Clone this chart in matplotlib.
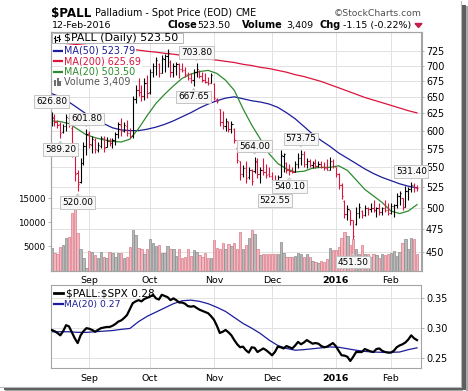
import matplotlib
matplotlib.use('Agg')
import matplotlib.pyplot as plt
import numpy as np
import pandas as pd
from matplotlib.lines import Line2D
from matplotlib.patches import Rectangle, Polygon
from matplotlib.ticker import NullLocator

plt.rcParams['text.parse_math'] = False

W, H = 468, 391

# trading sessions shown on the chart
holidays = ['2015-09-07', '2015-11-26', '2015-12-25', '2016-01-01', '2016-01-18']
days = pd.bdate_range('2015-08-13', '2016-02-12')
days = days[~days.isin(pd.to_datetime(holidays))]

opens = [611, 619, 612, 609, 598, 606, 618, 604, 574, 543,
         531, 556, 578, 596, 580, 587, 573, 579, 589, 577,
         586, 582, 587, 595, 608, 600, 607, 597, 593, 647,
         660, 657, 651, 671, 657, 690, 700, 702, 688, 711,
         716, 706, 690, 700, 702, 695, 692, 686, 680, 676,
         690, 691, 683, 677, 674, 671, 670, 647, 632, 612,
         607, 613, 602, 603, 576, 559, 541, 549, 537, 546,
         545, 557, 541, 547, 544, 541, 539, 532, 529, 538,
         565, 556, 547, 545, 544, 555, 562, 568, 554, 558,
         553, 556, 552, 555, 551, 549, 547, 558, 551, 541,
         527, 508, 492, 497, 485, 481, 494, 496, 491, 500,
         498, 500, 497, 499, 495, 499, 497, 494, 502, 503,
         514, 511, 501, 520, 522, 527, 524.65]
highs = [626.8, 624, 615, 612, 610, 624, 622, 606, 576, 546,
         562, 584, 601.8, 600, 593, 589, 584, 593, 593, 591,
         589, 589, 598, 613, 618, 612, 615, 604, 652, 668,
         679, 668, 679, 684, 695, 705, 715, 704, 718, 720,
         728, 709, 704, 706, 704, 705, 698, 690, 688, 695,
         703.8, 692, 689, 688, 681, 688, 671, 648, 632, 629,
         618, 614, 614, 604, 577, 559, 553, 559, 550, 548,
         564, 562, 550, 562, 555, 550, 544, 540, 540, 573,
         569, 557, 555, 550, 559, 569, 573.75, 572, 562, 561,
         559, 561, 559, 559, 557, 561, 564, 561, 551, 543,
         530, 509, 503, 497, 486, 501, 506, 497, 503, 501,
         506, 509, 501, 506, 501, 509, 506, 506, 504, 518,
         520, 512, 526, 525, 531.4, 530, 527]
lows = [607, 607, 604, 589.2, 596, 600, 605, 563, 533, 520,
        530, 553, 566, 576, 569, 569, 570, 576, 570, 577,
        579, 576, 580, 589, 593, 598, 593, 589, 590, 640,
        652, 644, 645, 648, 655, 682, 684, 682, 687, 689,
        697, 682, 682, 684, 680, 690, 682, 676, 671, 667.65,
        682, 680, 673, 671, 668, 671, 645, 640, 607, 603,
        600, 598, 596, 583, 556, 534, 538, 530, 535, 527,
        543, 536, 530, 540, 536, 538, 530, 522.55, 527, 538,
        544, 543, 540.1, 543, 544, 549, 553, 550, 549, 550,
        549, 549, 550, 549, 546, 546, 546, 549, 538, 522,
        510, 488, 486, 480, 451.5, 480, 488, 488, 490, 491,
        495, 495, 489, 491, 491, 495, 491, 493, 489, 500,
        503, 497, 501, 509, 519, 519, 520]
closes = [618, 612, 608, 597, 607, 620, 609, 571, 541, 529,
          556, 579, 595, 581, 588, 574, 580, 590, 576, 586,
          582, 587, 595, 609, 600, 608, 597, 592, 647, 661,
          657, 651, 672, 656, 690, 700, 710, 688, 712, 716,
          721, 690, 700, 703, 695, 692, 686, 680, 676, 690,
          695, 683, 677, 674, 671, 684, 648, 643, 612, 607,
          614, 602, 609, 587, 560, 541, 549, 536, 546, 532,
          558, 541, 547, 544, 540, 539, 532, 528, 537, 566,
          568, 547, 545, 544, 555, 562, 568, 554, 558, 553,
          556, 552, 555, 551, 549, 547, 558, 552, 541, 527,
          514, 492, 498, 485, 468, 494, 501, 491, 500, 498,
          500, 497, 499, 495, 499, 497, 494, 502, 503, 514,
          517, 501, 520, 522, 528, 524.65, 523.5]
volume = [4600, 3700, 3400, 4800, 5300, 6700, 6900, 11900, 13000, 7900,
          4400, 2700, 500, 4100, 3900, 3200, 2600, 3900, 2900, 2600,
          3900, 3600, 2900, 3600, 3600, 2600, 2800, 4800, 8400, 7400,
          4600, 4400, 3400, 4400, 6500, 5800, 5100, 5300, 3600, 3700,
          5000, 4400, 4500, 3000, 4400, 2600, 2800, 4400, 3000, 4200,
          3900, 3200, 2900, 3600, 2700, 2700, 6300, 4600, 4400, 5700,
          4400, 5600, 5200, 5800, 4400, 8000, 4400, 5300, 6700, 8500,
          7500, 4500, 3200, 3400, 3400, 3400, 3400, 3400, 3400, 6000,
          3600, 2800, 2800, 2900, 3000, 3600, 3400, 2800, 3400, 2800,
          2000, 1800, 1600, 2000, 1800, 2300, 4600, 4300, 4300, 4800,
          6700, 8000, 7100, 5300, 6500, 4400, 3500, 5300, 3500, 3500,
          2900, 3500, 3300, 2700, 3500, 3300, 3500, 3600, 4000, 3100,
          3900, 5800, 6500, 4400, 6700, 6600, 3409]
ratio = [.297, .295, .292, .288, .295, .305, .303, .293, .283, .275,
         .288, .295, .300, .299, .297, .294, .297, .300, .301, .302,
         .302, .304, .307, .311, .313, .317, .322, .332, .342, .345,
         .347, .345, .349, .351, .353, .356, .350, .348, .356, .354,
         .352, .347, .350, .347, .343, .343, .341, .337, .336, .337,
         .334, .331, .329, .327, .325, .320, .314, .304, .292, .294,
         .297, .293, .288, .280, .273, .268, .269, .263, .259, .268,
         .267, .260, .263, .266, .263, .259, .2545, .260, .269, .268,
         .266, .270, .268, .266, .271, .277, .273, .276, .280, .277,
         .274, .275, .274, .270, .268, .269, .272, .275, .270, .262,
         .2545, .254, .252, .245, .252, .260, .260, .260, .265, .263,
         .261, .260, .265, .266, .262, .260, .259, .259, .262, .268,
         .271, .273, .276, .281, .288, .283, .280]

ma50 = [655, 650, 642, 633, 624, 617, 610, 604, 601, 600, 600, 602, 605, 609, 614,
        620, 626, 633, 639, 644, 648, 650, 647, 644, 642, 639, 634, 626, 617, 606,
        595, 586, 578, 569, 562, 555, 548, 542, 537, 533, 529, 526, 523.79]
ma200 = [740, 738.5, 737, 735.5, 734, 733, 732, 730.5, 729, 727.5, 726, 724, 722.5,
         720.5, 719, 717, 715, 713, 711, 709, 707, 705, 702, 700, 697, 695, 692, 689,
         685, 682, 678, 674, 669, 664, 659, 654, 649, 645, 641, 637, 633, 629, 625.69]
ma20 = [614, 613, 610, 602, 594, 590, 587, 585, 584, 588, 603, 622, 640, 654, 667,
        679, 686, 690, 692, 687, 676, 660, 632, 608, 588, 568, 555, 548, 544, 545,
        549, 550, 550, 552, 546, 534, 522, 514, 506, 496, 493, 496, 503.5]
ratio_ma20 = [.294, .294, .294, .293, .293, .294, .295, .296, .298, .2995, .311, .320,
              .327, .334, .341, .346, .347, .345, .341, .335, .328, .318, .308, .300,
              .291, .280, .271, .266, .263, .264, .2655, .267, .2685, .268, .2655,
              .263, .261, .260, .2595, .2595, .260, .264, .267]

month_names = ['Sep', 'Oct', 'Nov', 'Dec', '2016', 'Feb']
price_ticks = [450, 475, 500, 525, 550, 575, 600, 625, 650, 675, 700, 725]
vol_ticks = [5000, 10000, 15000]
ratio_ticks = [0.25, 0.30, 0.35]

callouts = [('2015-08-13', 'high'), ('2015-08-18', 'low'), ('2015-08-26', 'low'),
            ('2015-08-31', 'high'), ('2015-10-22', 'low'), ('2015-10-23', 'high'),
            ('2015-11-20', 'high'), ('2015-12-02', 'low'), ('2015-12-09', 'low'),
            ('2015-12-15', 'high'), ('2016-01-12', 'low'), ('2016-02-10', 'high')]


def fx(px):
    return px / W


def fy(py):
    return 1 - py / H


def box(l, t, r, b):
    return [l / W, 1 - b / H, (r - l) / W, (b - t) / H]


x = np.arange(len(days))
xs = x[::3]
month_pos = [i for i in range(1, len(days)) if days[i].month != days[i - 1].month]

prev = np.r_[opens[0], closes[:-1]]
up = np.array(closes) >= prev
bar_col = np.where(up, 'black', '#dc143c')
vol_fc = np.where(up, '#b9b9b9', '#f2b6be')
vol_ec = np.where(up, '#8a8a8a', '#d97a8a')

grid_c = '#e2e2e2'
spine_c = '#a4a4a4'

fig = plt.figure(figsize=(W / 100, H / 100), dpi=100)
ax = fig.add_axes(box(51, 32.3, 421.5, 270.5))
axv = ax.twinx()
ax2 = fig.add_axes(box(51, 285, 421.5, 368.3))

# ---- price panel
ax.set_yscale('log')
ax.set_ylim(430.8, 757.3)
ax.set_xlim(-0.2, 127.55)
ax.vlines(x, lows, highs, colors=bar_col, lw=0.8, zorder=3)
ax.hlines(opens, x - 0.42, x, colors=bar_col, lw=0.8, zorder=3)
ax.hlines(closes, x, x + 0.42, colors=bar_col, lw=0.8, zorder=3)
ax.plot(xs, ma200, color='#dc143c', lw=0.9, zorder=2)
ax.plot(xs, ma50, color='#1c1c9c', lw=0.9, zorder=2)
ax.plot(xs, ma20, color='#2e8b2e', lw=0.9, zorder=2)

ax.yaxis.tick_right()
ax.yaxis.set_minor_locator(NullLocator())
ax.set_yticks(price_ticks)
ax.set_yticklabels([str(t) for t in price_ticks])
ax.tick_params(axis='y', which='both', length=2, width=0.6, color=spine_c, pad=1.2,
               labelsize=6.9, right=True, left=False)
ax.set_xticks(month_pos)
ax.set_xticklabels(month_names)
ax.tick_params(axis='x', length=0, pad=4, labelsize=6.8)
ax.get_xticklabels()[4].set_fontweight('bold')
ax.grid(True, color=grid_c, lw=0.7)
ax.set_axisbelow(True)

# ---- volume overlay
axv.bar(x, volume, width=0.82, color=vol_fc, edgecolor=vol_ec, lw=0.5, zorder=2)
axv.set_ylim(0, 49550)
axv.yaxis.tick_left()
axv.set_yticks(vol_ticks)
axv.set_yticklabels([str(t) for t in vol_ticks])
axv.tick_params(axis='y', length=2.5, width=0.6, color=spine_c, pad=1.5, labelsize=6.2)

for d, side in callouts:
    i = days.get_loc(pd.Timestamp(d))
    val = highs[i] if side == 'high' else lows[i]
    dy = 7.6 if side == 'high' else -8.2
    axv.annotate(f'{val:.2f}', xy=(i, val), xycoords=ax.transData,
                 xytext=(0, dy), textcoords='offset points', ha='center', va='center',
                 fontsize=6.4, zorder=6, annotation_clip=False,
                 bbox=dict(boxstyle='square,pad=0.2', fc='#f7f7f7', ec='#c4c4c4', lw=0.7),
                 arrowprops=dict(arrowstyle='wedge,tail_width=0.5,shrink_factor=0.5',
                                 fc='#cdcdcd', ec='none', shrinkA=0, shrinkB=1.5))

# ---- ratio panel
ax2.plot(x, ratio, color='black', lw=1.6, zorder=3)
ax2.plot(xs, ratio_ma20, color='#1c1c9c', lw=0.9, zorder=2)
ax2.set_xlim(-0.2, 127.55)
ax2.set_ylim(0.2327, 0.3724)
ax2.yaxis.tick_right()
ax2.set_yticks(ratio_ticks)
ax2.set_yticklabels([f'{t:.2f}' for t in ratio_ticks])
ax2.tick_params(axis='y', length=2, width=0.6, color=spine_c, pad=1.2, labelsize=6.9)
ax2.set_xticks(month_pos)
ax2.set_xticklabels(month_names)
ax2.tick_params(axis='x', length=0, pad=4, labelsize=6.8)
ax2.get_xticklabels()[4].set_fontweight('bold')
ax2.grid(True, color=grid_c, lw=0.7)
ax2.set_axisbelow(True)

for a in (ax, axv, ax2):
    for s in a.spines.values():
        s.set_color(spine_c)
        s.set_linewidth(0.8)

# ---- header
fig.text(fx(51.5), fy(16.7), '$PALL', fontsize=8.6, fontweight='bold', va='baseline')
fig.text(fx(95), fy(16.2), 'Palladium - Spot Price (EOD)', fontsize=6.9, va='baseline')
fig.text(fx(235), fy(16.2), 'CME', fontsize=6.9, va='baseline')
fig.text(fx(421.5), fy(16.2), '\u00a9StockCharts.com', fontsize=6.7, va='baseline',
         ha='right', color='#505050')
fig.text(fx(52), fy(28.4), '12-Feb-2016', fontsize=6.8, va='baseline')
fig.text(fx(167), fy(28.4), 'Close', fontsize=7, fontweight='bold', va='baseline')
fig.text(fx(230.5), fy(28.4), '523.50', fontsize=6.8, va='baseline', ha='right')
fig.text(fx(241.5), fy(28.4), 'Volume', fontsize=7, fontweight='bold', va='baseline')
fig.text(fx(313), fy(28.4), '3,409', fontsize=6.8, va='baseline', ha='right')
fig.text(fx(320), fy(28.4), 'Chg', fontsize=7, fontweight='bold', va='baseline')
fig.text(fx(411.5), fy(28.4), '-1.15 (-0.22%)', fontsize=6.8, va='baseline', ha='right')
fig.add_artist(Polygon([[fx(415), fy(23.5)], [fx(422), fy(23.5)], [fx(418.5), fy(27.5)]],
                       closed=True, color='#c0204a', transform=fig.transFigure))

# ---- price legend
fig.add_artist(Rectangle((fx(51.8), fy(43.3)), fx(183.3) - fx(51.8), fy(32.8) - fy(43.3),
                         fc='white', ec='#b4b4b4', lw=0.7, transform=fig.transFigure, zorder=4))
for lx, ly0, ly1 in [(55, 35.5, 41.5), (58.5, 34.5, 40.5)]:
    fig.add_artist(Line2D([fx(lx)] * 2, [fy(ly0), fy(ly1)], color='black', lw=0.8, zorder=5))
    fig.add_artist(Line2D([fx(lx - 1.5), fx(lx)], [fy(ly0 + 2)] * 2, color='black', lw=0.8, zorder=5))
    fig.add_artist(Line2D([fx(lx), fx(lx + 1.5)], [fy(ly1 - 2)] * 2, color='black', lw=0.8, zorder=5))
fig.text(fx(64), fy(38.2), '$PALL (Daily) 523.50', fontsize=7.9, va='center', zorder=5)

legend_rows = [('MA(50) 523.79', '#1c1c9c', 50.7), ('MA(200) 625.69', '#dc143c', 61.3),
               ('MA(20) 503.50', '#2e8b2e', 72.0)]
for label, col, ly in legend_rows:
    fig.text(fx(64), fy(ly), label, fontsize=6.9, va='center', color=col, zorder=5,
             bbox=dict(fc='white', ec='none', pad=0.8))
    fig.add_artist(Line2D([fx(54), fx(62.5)], [fy(ly)] * 2, color=col, lw=1.6, zorder=5))
for bx, bt in [(54, 80.5), (56.6, 78), (59.2, 81.5)]:
    fig.add_artist(Rectangle((fx(bx), fy(85.5)), fx(2) - fx(0), fy(bt) - fy(85.5),
                             fc='#6e6e6e', ec='none', transform=fig.transFigure, zorder=5))
fig.text(fx(64), fy(82.3), 'Volume 3,409', fontsize=6.9, va='center', color='#555555',
         zorder=5, bbox=dict(fc='white', ec='none', pad=0.8))

# ---- ratio legend
fig.add_artist(Line2D([fx(54), fx(63)], [fy(293)] * 2, color='black', lw=2.0, zorder=5))
fig.text(fx(66.5), fy(293), '$PALL:$SPX 0.28', fontsize=7.6, va='center', zorder=5)
fig.add_artist(Line2D([fx(54), fx(62.5)], [fy(304)] * 2, color='#1c1c9c', lw=1.6, zorder=5))
fig.text(fx(64), fy(304), 'MA(20) 0.27', fontsize=6.7, va='center', color='#1c1c9c', zorder=5)

# ---- frame shadow
fig.add_artist(Line2D([fx(460.5)] * 2, [fy(1), fy(386.5)], color='#b8b8b8', lw=0.8))
fig.add_artist(Line2D([fx(0), fx(460.5)], [fy(386.5)] * 2, color='#b8b8b8', lw=0.8))
fig.add_artist(Rectangle((fx(462), fy(390)), fx(3.5) - fx(0), fy(5) - fy(390),
                         fc='#5e5e5e', ec='none', transform=fig.transFigure))
fig.add_artist(Rectangle((fx(4), fy(390)), fx(461.5) - fx(4), fy(387.5) - fy(390),
                         fc='#5e5e5e', ec='none', transform=fig.transFigure))
fig.add_artist(Rectangle((fx(465.5), fy(391)), fx(2.5) - fx(0), fy(6) - fy(391),
                         fc='#a8a8a8', ec='none', transform=fig.transFigure))
fig.add_artist(Rectangle((fx(5), fy(391)), fx(463) - fx(5), fy(390) - fy(391),
                         fc='#a8a8a8', ec='none', transform=fig.transFigure))

fig.savefig('out.png', dpi=100)
